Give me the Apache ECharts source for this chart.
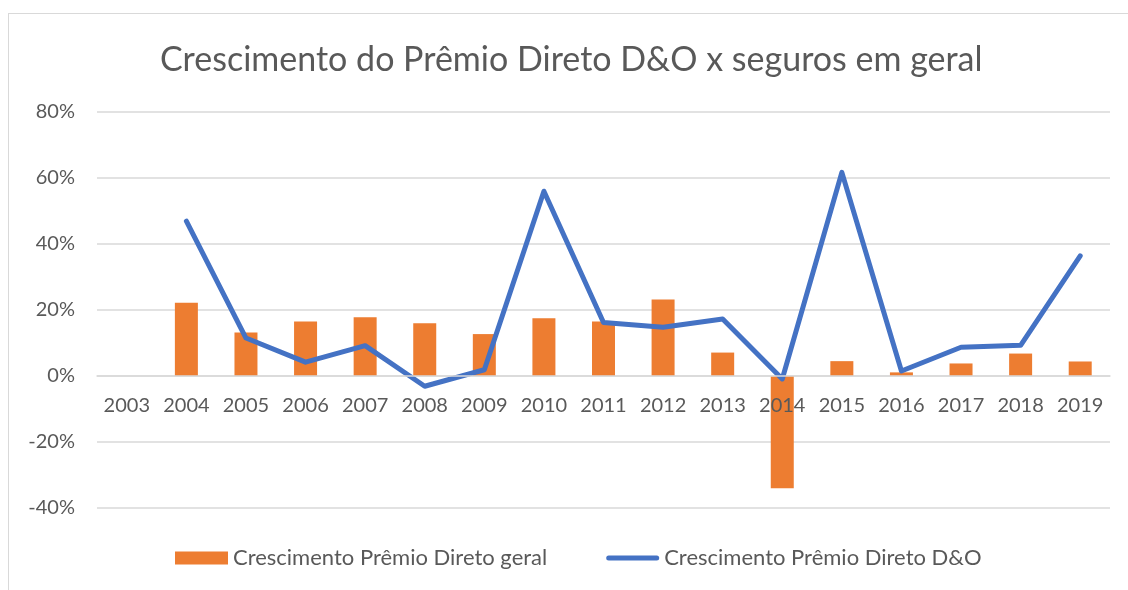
<!DOCTYPE html>
<html>
<head>
<meta charset="utf-8">
<script src="https://cdn.jsdelivr.net/npm/echarts@6/dist/echarts.min.js"></script>
<style>
  html, body { margin: 0; padding: 0; background: #fff; }
  #frame { position: absolute; left: 8px; top: 13px; width: 1130px; height: 590px; border: 1px solid #d9d9d9; box-sizing: border-box; }
  #chart { position: absolute; left: 0; top: 0; width: 1128px; height: 590px; }
</style>
</head>
<body>
<div id="frame"></div>
<div id="chart"></div>
<script>
const years = ['2003', '2004', '2005', '2006', '2007', '2008', '2009', '2010', '2011',
  '2012', '2013', '2014', '2015', '2016', '2017', '2018', '2019']

// crescimento do prêmio direto, seguros em geral (%)
const geral = [null, 22.2, 13.2, 16.5, 17.8, 16.0, 12.7, 17.5, 16.5, 23.2, 7.1, -34.0, 4.5, 1.1, 3.8, 6.8, 4.4]

// crescimento do prêmio direto D&O (%)
const dno = [null, 46.9, 11.5, 4.2, 9.2, -3.1, 1.9, 56.0, 16.2, 14.8, 17.3, -0.9, 61.7, 1.5, 8.7, 9.3, 36.4]

const yTicks = [-40, -20, 0, 20, 40, 60, 80]

const FONT = 'Lato, "Open Sans", sans-serif'
const TXT = '#595959'

const chart = echarts.init(document.getElementById('chart'), null, { renderer: 'canvas' })

chart.setOption({
  animation: false,
  backgroundColor: 'transparent',
  textStyle: { fontFamily: FONT, color: TXT },
  title: {
    text: 'Crescimento do Prêmio Direto D&O x seguros em geral',
    left: 155,
    top: 38,
    textStyle: { fontFamily: FONT, fontSize: 34, fontWeight: 'normal', color: TXT }
  },
  grid: { left: 97, right: 18, top: 112, bottom: 82 },
  legend: {
    bottom: 16,
    left: 170,
    itemWidth: 53,
    itemHeight: 13,
    itemGap: 59,
    textStyle: { fontFamily: FONT, fontSize: 22, color: TXT },
    data: [
      { name: 'Crescimento Prêmio Direto geral', icon: 'rect' },
      { name: 'Crescimento Prêmio Direto D&O', icon: 'path://M2.5,0 L50.5,0 A2.5,2.5 0 0 1 50.5,5 L2.5,5 A2.5,2.5 0 0 1 2.5,0 Z' }
    ]
  },
  xAxis: {
    type: 'category',
    data: years,
    offset: -132,
    z: 10,
    axisLine: { onZero: false, lineStyle: { color: '#d9d9d9', width: 1.5 } },
    axisTick: { show: false },
    axisLabel: { margin: 20, fontSize: 20, color: TXT, fontFamily: FONT, interval: 0 },
    splitLine: { show: false }
  },
  yAxis: {
    type: 'value',
    min: yTicks[0],
    max: yTicks[yTicks.length - 1],
    interval: 20,
    axisLine: { show: false },
    axisTick: { show: false },
    axisLabel: { margin: 22, fontSize: 20, color: TXT, fontFamily: FONT, formatter: v => v + '%' },
    splitLine: { lineStyle: { color: '#d9d9d9', width: 1.5 } }
  },
  series: [
    {
      name: 'Crescimento Prêmio Direto geral',
      type: 'bar',
      data: geral,
      barWidth: 23,
      itemStyle: { color: '#ED7D31' }
    },
    {
      name: 'Crescimento Prêmio Direto D&O',
      type: 'line',
      data: dno,
      symbol: 'none',
      connectNulls: false,
      itemStyle: { color: '#4472C4' },
      lineStyle: { color: '#4472C4', width: 5, cap: 'round', join: 'round' },
      z: 3
    }
  ]
})
</script>
</body>
</html>
